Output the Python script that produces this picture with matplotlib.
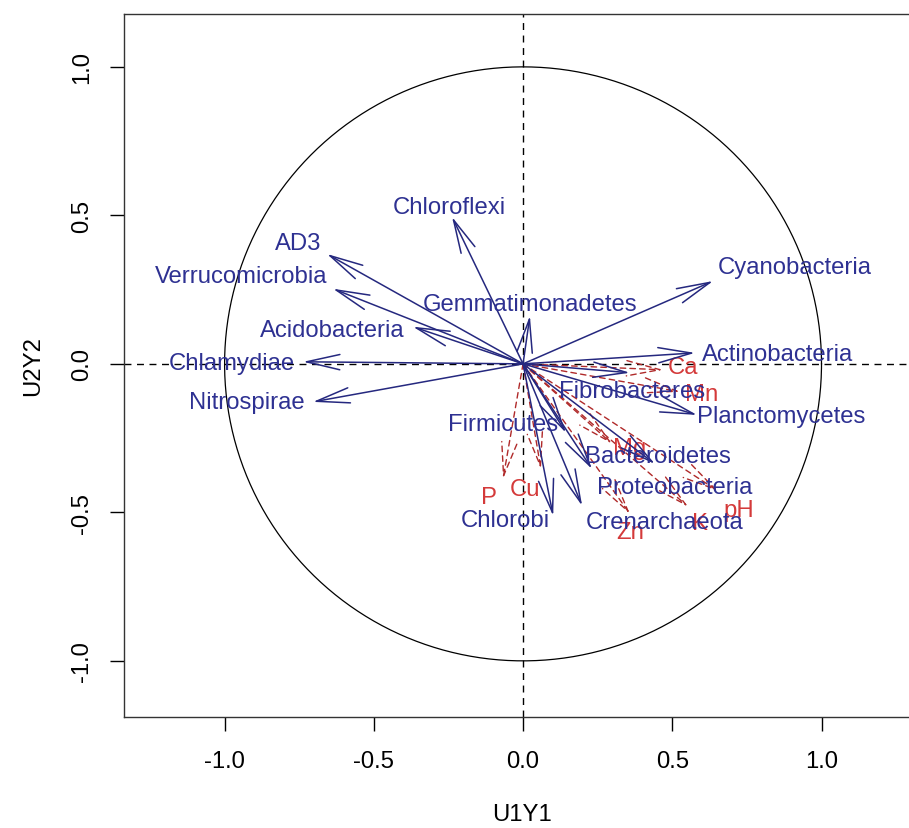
import numpy as np
import matplotlib
matplotlib.use("Agg")
import matplotlib.pyplot as plt

# ---- data: correlations (canonical loadings) ----
phyla = ["Chloroflexi", "AD3", "Verrucomicrobia", "Acidobacteria", "Chlamydiae",
         "Nitrospirae", "Gemmatimonadetes", "Cyanobacteria", "Actinobacteria",
         "Fibrobacteres", "Planctomycetes", "Firmicutes", "Bacteroidetes",
         "Proteobacteria", "Crenarchaeota", "Chlorobi"]
phyla_u1 = [-0.238, -0.657, -0.637, -0.369, -0.737, -0.704, 0.023, 0.637, 0.576,
            0.358, 0.583, 0.144, 0.231, 0.442, 0.198, 0.101]
phyla_u2 = [0.495, 0.370, 0.253, 0.125, 0.007, -0.128, 0.162, 0.279, 0.037,
            -0.030, -0.172, -0.232, -0.354, -0.337, -0.478, -0.512]

env = ["Ca", "Mn", "Mg", "pH", "K", "Zn", "Cu", "P"]
env_u1 = [0.469, 0.526, 0.298, 0.653, 0.553, 0.358, 0.060, -0.067]
env_u2 = [-0.020, -0.094, -0.269, -0.428, -0.481, -0.505, -0.354, -0.387]

# ---- layout: label offsets (pixels) relative to arrow tips ----
phyla_lab_off = [(-3, 10), (-29, 11), (-92, 13), (-81, -3), (-71, -1),
                 (-66, 0), (0, 12), (82, 14), (83, -1),
                 (2, -18), (84, -1), (-63, 9), (66, 13),
                 (20, -23), (82, -16), (-48, -4)]
env_lab_off = [(20, 3), (22, -2), (18, -4), (21, -19), (12, -16),
               (0, -18), (-16, -20), (-14, -18)]

BLUE_T = "#2E3192"
BLUE_A = "#25287F"
RED_T = "#D43A3A"
RED_A = "#B02A2A"
FS = 17.2

plt.rcParams['font.family'] = ['Liberation Sans', 'DejaVu Sans']

fig = plt.figure(figsize=(9.09, 8.29), dpi=100)
W, H = 909, 829
ax = fig.add_axes([124 / W, (H - 718) / H, (920 - 124) / W, (718 - 15) / H])
ax.set_xlim(-1.337, 1.33)
ax.set_ylim(-1.189, 1.178)

# unit circle
t = np.linspace(0, 2 * np.pi, 400)
ax.plot(np.cos(t), np.sin(t), color="black", lw=0.9)
# reference dashed lines
ax.axhline(0, color="black", lw=1.0, ls=(0, (5, 4)))
ax.axvline(0, color="black", lw=1.0, ls=(0, (5, 4)))

astyle = "->,head_length=2.4,head_width=0.55"

# environmental arrows (red, dashed)
for name, x, y, off in zip(env, env_u1, env_u2, env_lab_off):
    ax.annotate("", xy=(x, y), xytext=(0, 0),
                arrowprops=dict(arrowstyle=astyle, color=RED_A, lw=1.0,
                                linestyle=(0, (4, 3)), shrinkA=0, shrinkB=0))
for name, x, y, off in zip(env, env_u1, env_u2, env_lab_off):
    ax.annotate(name, xy=(x, y), xytext=off, textcoords="offset pixels",
                ha="center", va="center", color=RED_T, fontsize=FS)

# phyla arrows (blue)
for name, x, y, off in zip(phyla, phyla_u1, phyla_u2, phyla_lab_off):
    ax.annotate("", xy=(x, y), xytext=(0, 0),
                arrowprops=dict(arrowstyle=astyle, color=BLUE_A, lw=1.1,
                                shrinkA=0, shrinkB=0))
for name, x, y, off in zip(phyla, phyla_u1, phyla_u2, phyla_lab_off):
    ax.annotate(name, xy=(x, y), xytext=off, textcoords="offset pixels",
                ha="center", va="center", color=BLUE_T, fontsize=FS)

ax.set_xticks([-1.0, -0.5, 0.0, 0.5, 1.0])
ax.set_yticks([-1.0, -0.5, 0.0, 0.5, 1.0])
ax.set_xticklabels(["-1.0", "-0.5", "0.0", "0.5", "1.0"])
ax.set_yticklabels(["-1.0", "-0.5", "0.0", "0.5", "1.0"], rotation=90, va="center")
ax.tick_params(direction="out", length=10, width=1.0, labelsize=FS, pad=12,
               colors="black")
ax.tick_params(axis="x", pad=14)
for s in ax.spines.values():
    s.set_linewidth(1.0)
    s.set_color("#333333")

ax.set_xlabel("U1Y1", fontsize=FS, labelpad=22)
ax.set_ylabel("U2Y2", fontsize=FS, labelpad=20)

fig.savefig("out.png", dpi=100)
